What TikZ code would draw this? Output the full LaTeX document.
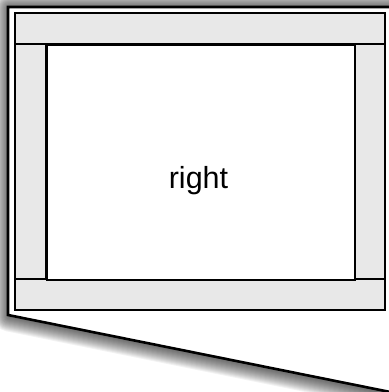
\documentclass[tikz,border=0pt]{standalone}
\usepackage{fontspec}
\setmainfont{Liberation Sans}
\definecolor{bargray}{HTML}{E8E8E8}
\begin{document}
\begin{tikzpicture}[x=1pt,y=-1pt,
  frame/.style={draw=black,line width=2.6pt,fill=white,line join=miter},
  shadowring/.style={draw=black,draw opacity=0.05,line join=round},
  bar/.style={draw=black,line width=2.1pt,fill=bargray},
  pane/.style={draw=black,line width=2.1pt,fill=white}]
\useasboundingbox (0,0) rectangle (389,392);
\begin{scope}
\clip (0,0) rectangle (389,392);
\foreach \i in {1,...,15}{
  \draw[shadowring,line width=2*\i pt] (9,8) -- (420,8) -- (420,400) -- (9,316.5) -- cycle;
}
\path[frame] (8,7) -- (420,7) -- (420,398) -- (8,315) -- cycle;
\end{scope}
\path[bar] (15,13) rectangle (385,44);
\path[bar] (15,279) rectangle (385,310);
\path[bar] (15,44) rectangle (46,279);
\path[bar] (354,44) rectangle (385,279);
\node[pane,minimum width=308pt,minimum height=235pt,inner sep=0pt,anchor=north west] (center) at (46,44) {};
\node[font=\fontsize{30.5}{34}\selectfont,anchor=base] (label) at (198.5,188) {right};
\end{tikzpicture}
\end{document}
